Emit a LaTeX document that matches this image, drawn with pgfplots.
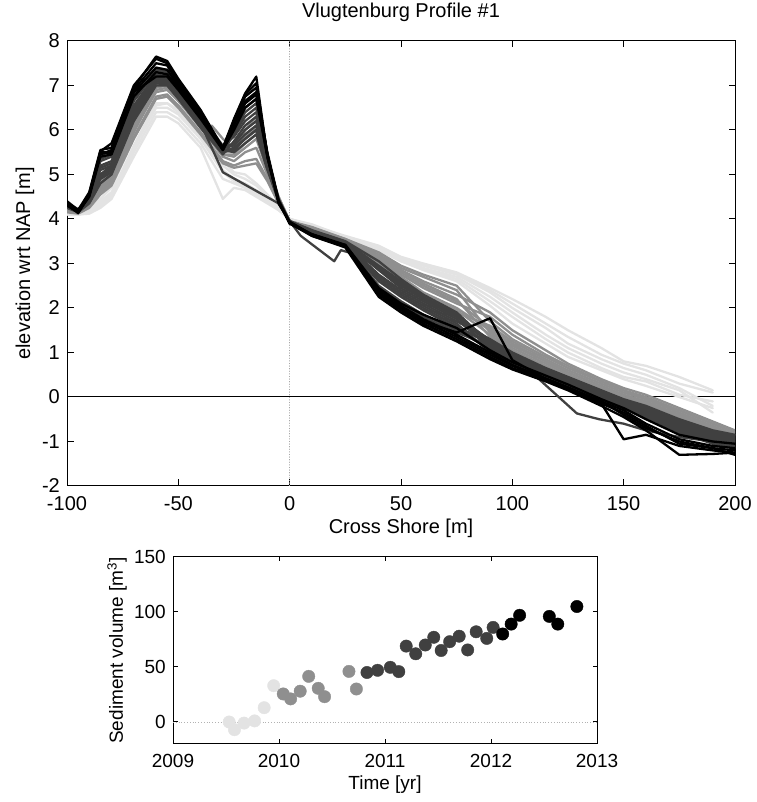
\documentclass[border=0pt]{standalone}
\usepackage{fontspec}
\setmainfont{Liberation Sans}
\usepackage{pgfplots}
\usepackage{pgfplotstable}
\pgfplotsset{compat=1.18}
\definecolor{cL}{gray}{0.89}
\definecolor{cM}{gray}{0.56}
\definecolor{cD}{gray}{0.25}
\definecolor{cB}{gray}{0.0}

% light profiles (2009)
\pgfplotstableread{
x y1 y2 y3 y4 y5 y6
-100 4.10 4.15 4.20 4.10 4.15 4.20
-95  4.10 4.10 4.15 4.10 4.12 4.15
-90  4.12 4.15 4.20 4.15 4.20 4.25
-85  4.25 4.30 4.40 4.30 4.35 4.45
-80  4.45 4.50 4.60 4.50 4.55 4.70
-70  5.40 5.50 5.60 5.60 5.65 5.80
-60  6.30 6.40 6.50 6.55 6.60 6.70
-55  6.30 6.40 6.50 6.60 6.60 6.75
-50  6.15 6.25 6.35 6.40 6.45 6.55
-40  5.60 5.70 5.80 5.85 5.90 6.00
-30  4.45 4.90 5.05 5.10 5.20 5.30
-25  4.70 4.80 4.85 4.90 5.00 5.05
-20  4.65 4.70 4.75 4.80 4.90 5.00
-15  4.50 4.55 4.60 4.65 4.75 4.80
-10  4.35 4.40 4.40 4.45 4.50 4.55
-5   4.20 4.20 4.22 4.25 4.25 4.30
0    4.00 4.00 4.00 4.00 4.00 4.00
10   3.85 3.88 3.85 3.85 3.82 3.85
25   3.62 3.60 3.58 3.60 3.55 3.58
40   3.40 3.38 3.35 3.32 3.30 3.30
50   3.15 3.12 3.10 3.08 3.05 3.05
60   3.00 2.98 2.95 2.90 2.88 2.85
75   2.80 2.78 2.75 2.70 2.65 2.60
90   2.45 2.40 2.35 2.25 2.15 2.05
100  2.20 2.10 2.00 1.90 1.80 1.65
115  1.80 1.65 1.55 1.40 1.30 1.20
125  1.50 1.35 1.20 1.10 1.00 0.90
140  1.10 0.95 0.85 0.75 0.65 0.60
150  0.80 0.75 0.65 0.55 0.45 0.40
160  0.70 0.60 0.50 0.40 0.35 0.25
175  0.45 0.30 0.20 0.15 0.05 0.00
190  0.15 0.10 -0.20 -0.35 -0.10 -0.25
}\tabL

% medium profiles (2010)
\pgfplotstableread{
x y1 y2 y3 y4 y5 y6 y7 y8
-100 4.20 4.15 4.25 4.20 4.25 4.30 4.20 4.25
-95  4.15 4.12 4.15 4.18 4.20 4.20 4.15 4.20
-90  4.30 4.25 4.35 4.30 4.40 4.40 4.35 4.40
-85  4.60 4.55 4.70 4.65 4.80 4.90 4.75 4.85
-80  4.80 4.75 4.90 4.85 5.00 5.10 4.95 5.05
-70  5.85 5.80 6.00 5.95 6.10 6.20 6.05 6.15
-60  6.75 6.70 6.85 6.90 6.95 7.05 7.00 7.10
-55  6.80 6.75 6.90 6.95 7.00 7.05 7.00 7.10
-50  6.55 6.50 6.65 6.70 6.75 6.80 6.75 6.85
-40  5.95 5.90 6.05 6.10 6.10 6.20 6.15 6.20
-30  5.30 5.25 5.40 5.45 5.45 5.55 5.50 5.55
-25  5.20 5.15 5.30 5.40 5.45 5.60 5.60 5.70
-20  5.30 5.20 5.50 5.60 5.70 5.90 5.85 6.00
-15  5.35 5.25 5.60 5.80 5.90 6.10 6.05 6.30
-10  4.90 4.85 5.00 5.10 5.10 5.20 5.20 5.30
-5   4.40 4.35 4.40 4.45 4.45 4.45 4.50 4.50
0    3.95 3.95 3.95 3.95 3.95 3.95 3.95 3.95
10   3.80 3.82 3.78 3.80 3.75 3.78 3.75 3.72
25   3.55 3.55 3.50 3.50 3.48 3.50 3.45 3.45
40   3.25 3.20 3.15 3.15 3.10 3.05 3.00 3.00
50   2.95 2.90 2.85 2.85 2.75 2.70 2.65 2.60
60   2.75 2.70 2.60 2.55 2.45 2.35 2.30 2.25
75   2.50 2.40 2.30 2.20 2.10 2.00 1.95 1.90
90   1.70 1.45 1.90 1.35 1.80 1.50 1.40 1.60
100  1.30 1.10 1.50 1.00 1.40 1.15 1.05 1.25
115  0.90 0.75 1.05 0.65 0.95 0.80 0.70 0.85
125  0.65 0.50 0.75 0.45 0.70 0.55 0.45 0.60
140  0.35 0.20 0.40 0.15 0.35 0.25 0.20 0.30
150  0.15 0.00 0.20 -0.05 0.15 0.05 0.00 0.10
160  -0.05 -0.15 0.05 -0.20 0.00 -0.10 -0.15 -0.05
175  -0.30 -0.40 -0.25 -0.50 -0.30 -0.40 -0.45 -0.35
190  -0.60 -0.70 -0.55 -0.80 -0.60 -0.70 -0.75 -0.65
200  -0.80 -0.90 -0.75 -1.00 -0.80 -0.85 -0.95 -0.85
}\tabM

% dark profiles (2010.8-2012)
\pgfplotstableread{
x y1 y2 y3 y4 y5 y6 y7 y8 y9 y10
-100 4.25 4.28 4.30 4.26 4.32 4.30 4.34 4.33 4.36 4.35
-95  4.15 4.18 4.16 4.20 4.17 4.19 4.21 4.18 4.22 4.20
-90  4.35 4.40 4.38 4.42 4.45 4.44 4.48 4.46 4.50 4.52
-85  4.80 4.90 4.95 5.00 5.10 5.15 5.20 5.30 5.35 5.45
-80  5.00 5.05 5.10 5.15 5.20 5.25 5.30 5.40 5.45 5.50
-70  6.20 6.25 6.30 6.40 6.45 6.50 6.55 6.65 6.70 6.80
-60  7.00 7.05 7.10 7.10 7.15 7.20 7.25 7.30 7.35 7.40
-55  7.00 7.02 7.05 7.10 7.12 7.15 7.20 7.25 7.30 7.35
-50  6.70 6.72 6.75 6.80 6.82 6.85 6.88 6.92 6.95 7.00
-40  6.05 6.08 6.10 6.12 6.15 6.18 6.20 6.24 6.27 6.30
-30  5.45 5.48 5.50 5.52 5.55 5.55 5.58 5.60 5.62 5.65
-25  5.75 6.05 5.55 5.90 5.50 6.10 5.70 5.95 5.65 5.85
-20  6.10 6.50 5.80 6.30 5.70 6.60 6.00 6.40 5.90 6.20
-15  6.30 6.70 6.00 6.50 5.90 6.80 6.20 6.60 6.10 6.40
-10  5.30 5.45 5.15 5.35 5.10 5.50 5.25 5.40 5.20 5.30
-5   4.40 4.40 4.42 4.42 4.42 4.44 4.44 4.45 4.45 4.45
0    3.95 3.95 3.95 3.95 3.93 3.93 3.92 3.92 3.92 3.90
10   3.75 3.74 3.73 3.72 3.71 3.70 3.69 3.68 3.66 3.65
25   3.50 3.49 3.48 3.47 3.46 3.45 3.44 3.43 3.42 3.40
40   3.05 2.95 2.90 2.85 2.75 2.70 2.65 2.60 2.50 2.45
50   2.65 2.60 2.55 2.45 2.40 2.35 2.30 2.25 2.15 2.10
60   2.30 2.25 2.20 2.15 2.10 2.05 2.00 1.95 1.85 1.80
75   1.90 1.85 1.80 1.75 1.70 1.65 1.60 1.55 1.50 1.45
90   1.20 1.05 1.28 1.10 1.30 1.00 1.18 1.25 1.08 1.15
100  0.92 0.78 0.98 0.85 1.00 0.75 0.90 0.95 0.82 0.88
115  0.58 0.48 0.62 0.52 0.65 0.45 0.56 0.60 0.50 0.54
125  0.38 0.28 0.42 0.32 0.45 0.25 0.36 0.40 0.30 0.34
140  0.08 -0.02 0.12 0.02 0.15 -0.05 0.06 0.10 0.00 0.04
150  -0.12 -0.22 -0.08 -0.18 -0.05 -0.25 -0.14 -0.10 -0.20 -0.16
160  -0.28 -0.42 -0.23 -0.36 -0.20 -0.45 -0.30 -0.25 -0.39 -0.33
175  -0.60 -0.77 -0.53 -0.70 -0.50 -0.80 -0.63 -0.57 -0.73 -0.67
190  -0.85 -1.02 -0.78 -0.95 -0.75 -1.05 -0.88 -0.82 -0.98 -0.92
200  -0.95 -1.12 -0.88 -1.05 -0.85 -1.15 -0.98 -0.92 -1.08 -1.02
}\tabD

% black profiles (2012)
\pgfplotstableread{
x y1 y2 y3 y4 y5 y6
-100 4.30 4.35 4.40 4.35 4.38 4.32
-95  4.15 4.15 4.20 4.13 4.18 4.15
-90  4.50 4.55 4.60 4.55 4.58 4.52
-85  5.40 5.50 5.55 5.45 5.52 5.48
-80  5.45 5.50 5.60 5.55 5.70 5.48
-70  6.75 6.85 6.95 6.90 7.00 6.85
-60  7.30 7.40 7.65 7.50 7.60 7.20
-55  7.25 7.35 7.55 7.45 7.50 7.20
-50  6.95 7.00 7.15 7.05 7.10 6.90
-40  6.30 6.35 6.45 6.40 6.40 6.25
-30  5.60 5.60 5.60 5.55 5.55 5.55
-25  6.10 6.20 6.25 6.15 6.22 6.00
-20  6.60 6.75 6.82 6.65 6.80 6.50
-15  6.80 6.95 7.20 6.85 7.05 6.70
-10  5.40 5.45 5.40 5.45 5.45 5.40
-5   4.40 4.40 4.35 4.40 4.42 4.40
0    3.90 3.92 3.94 3.90 3.92 3.90
10   3.65 3.62 3.65 3.62 3.64 3.66
25   3.40 3.38 3.40 3.36 3.38 3.42
40   2.40 2.30 2.35 2.25 2.35 2.45
50   2.05 1.95 2.00 1.90 2.00 2.10
60   1.75 1.65 1.70 1.60 1.70 1.85
75   1.40 1.30 1.35 1.25 1.45 1.55
90   1.00 0.90 0.95 0.85 1.77 1.05
100  0.72 0.65 0.70 0.62 0.83 0.78
115  0.42 0.38 0.40 0.35 0.40 0.48
125  0.22 0.18 0.20 0.15 0.20 0.28
140  -0.10 -0.15 -0.10 -0.20 -0.15 -0.05
150  -0.40 -0.95 -0.30 -0.45 -0.35 -0.25
160  -0.70 -0.85 -0.60 -0.75 -0.65 -0.50
175  -1.00 -1.10 -0.95 -1.30 -1.05 -0.85
190  -1.15 -1.20 -1.10 -1.28 -1.15 -1.00
200  -1.20 -1.25 -1.15 -1.25 -1.30 -1.05
}\tabB

\begin{document}
\begin{tikzpicture}[font=\fontsize{20}{23}\selectfont]
\path[use as bounding box] (0,0) rectangle (756pt,802pt);
\pgfplotsset{
  every axis/.append style={
    scale only axis,
    anchor=south west,
    axis line style={line width=1pt, black},
    tick style={line width=1pt, black},
    tick align=inside,
    /pgf/number format/assume math mode=true,
    xticklabel style={inner sep=0pt, anchor=north, yshift=-10pt},
    yticklabel style={inner sep=0pt, anchor=east, xshift=-7pt},
  }
}
\begin{axis}[
  at={(67pt,316pt)},
  width=668pt, height=445pt,
  xmin=-100, xmax=200, ymin=-2, ymax=8,
  xtick={-100,-50,0,50,100,150,200},
  ytick={-2,-1,0,1,2,3,4,5,6,7,8},
  tick label style={font=\fontsize{20}{23}\selectfont},
  label style={font=\fontsize{20}{23}\selectfont},
  major tick length=6.5pt,
  title={Vlugtenburg Profile \#1},
  title style={font=\fontsize{20}{23}\selectfont, at={(axis description cs:0.5,1.052)}, anchor=center, inner sep=0pt},
  xlabel={Cross Shore [m]},
  xlabel style={at={(axis description cs:0.5,-0.096)}, anchor=center, inner sep=0pt},
  ylabel={elevation wrt NAP [m]},
  ylabel style={at={(axis description cs:-0.063,0.5)}, anchor=center, rotate=0, inner sep=0pt},
  every axis plot/.append style={line width=2.3pt, line join=round, line cap=round},
  unbounded coords=jump,
]
\addplot[gray!70, line width=0.6pt, dotted] coordinates {(0,-2) (0,8)};
\addplot[black, line width=1pt] coordinates {(-100,0) (200,0)};
\pgfplotsinvokeforeach{1,...,6}{\addplot[cL] table[x=x, y=y#1] {\tabL};}
\pgfplotsinvokeforeach{1,...,8}{\addplot[cM] table[x=x, y=y#1] {\tabM};}
\addplot[cM] coordinates {(-35,6.1) (-30,5.8) (-25,5.6) (-20,5.9) (-15,6.0) (-10,5.1) (-5,4.4) (0,3.95) (10,3.78) (25,3.5) (40,3.1) (50,2.8) (60,2.5) (75,2.15) (90,1.55) (100,1.2) (115,0.8) (125,0.55) (140,0.25) (150,0.05) (160,-0.1) (175,-0.4) (190,-0.7) (200,-0.85)};
\pgfplotsinvokeforeach{1,...,10}{\addplot[cD] table[x=x, y=y#1] {\tabD};}
\addplot[cD] coordinates {(-100,4.3) (-95,4.2) (-90,4.45) (-85,5.0) (-80,5.2) (-70,6.4) (-60,7.1) (-55,7.1) (-50,6.8) (-40,6.15) (-30,5.05) (-5,4.35) (0,3.95) (10,3.7) (25,3.45) (40,2.9) (50,2.5) (60,2.2) (75,1.8) (90,1.2) (100,0.95) (112,0.4) (129,-0.37) (139,-0.5) (150,-0.6) (160,-0.75) (175,-0.9) (190,-1.0) (200,-1.1)};
\addplot[cD] coordinates {(-100,4.3) (-95,4.18) (-90,4.42) (-85,4.95) (-80,5.15) (-70,6.35) (-60,7.1) (-55,7.05) (-50,6.78) (-40,6.1) (-30,5.5) (-25,5.6) (-20,5.8) (-15,6.0) (-10,5.15) (-5,4.4) (0,3.95) (5,3.62) (20,3.05) (23,3.3) (30,3.2) (40,2.9) (50,2.55) (60,2.2) (75,1.85) (90,1.25) (100,0.95) (115,0.6) (125,0.4) (140,0.1) (150,-0.1) (160,-0.25) (175,-0.55) (190,-0.8) (200,-0.9)};
\pgfplotsinvokeforeach{1,...,6}{\addplot[cB] table[x=x, y=y#1] {\tabB};}
\end{axis}

\begin{axis}[
  at={(173pt,58pt)},
  width=424pt, height=187pt,
  xmin=2009, xmax=2013, ymin=-20, ymax=150,
  xtick={2009,2010,2011,2012,2013},
  xticklabels={2009,2010,2011,2012,2013},
  ytick={0,50,100,150},
  tick label style={font=\fontsize{19}{22}\selectfont},
  label style={font=\fontsize{19}{22}\selectfont},
  major tick length=4.5pt,
  xlabel={Time [yr]},
  xlabel style={at={(axis description cs:0.5,-0.219)}, anchor=center, inner sep=0pt},
  ylabel={Sediment volume [m\textsuperscript{3}]},
  ylabel style={at={(axis description cs:-0.132,0.5)}, anchor=center, inner sep=0pt},
]
\addplot[gray!60, dotted, line width=0.8pt, mark=none] coordinates {(2009,0) (2013,0)};
\addplot[only marks, mark=*, mark size=6.2pt, cL, mark options={draw=cL, fill=cL}] coordinates {(2009.53,0) (2009.58,-7) (2009.67,-1) (2009.77,1) (2009.86,13) (2009.95,33)};
\addplot[only marks, mark=*, mark size=6.2pt, cM, mark options={draw=cM, fill=cM}] coordinates {(2010.04,25.5) (2010.11,21) (2010.20,28) (2010.28,41.5) (2010.37,30.6) (2010.43,23) (2010.66,46) (2010.73,30)};
\addplot[only marks, mark=*, mark size=6.2pt, cD, mark options={draw=cD, fill=cD}] coordinates {(2010.83,45) (2010.93,47) (2011.05,49.7) (2011.13,45.8) (2011.20,69) (2011.29,62) (2011.38,70) (2011.46,77) (2011.53,65) (2011.61,73) (2011.70,78) (2011.78,65.5) (2011.86,82) (2011.96,76) (2012.02,86)};
\addplot[only marks, mark=*, mark size=6.2pt, cB, mark options={draw=cB, fill=cB}] coordinates {(2012.11,80) (2012.19,89) (2012.27,97) (2012.55,96) (2012.63,89) (2012.81,105)};
\end{axis}
\end{tikzpicture}
\end{document}
